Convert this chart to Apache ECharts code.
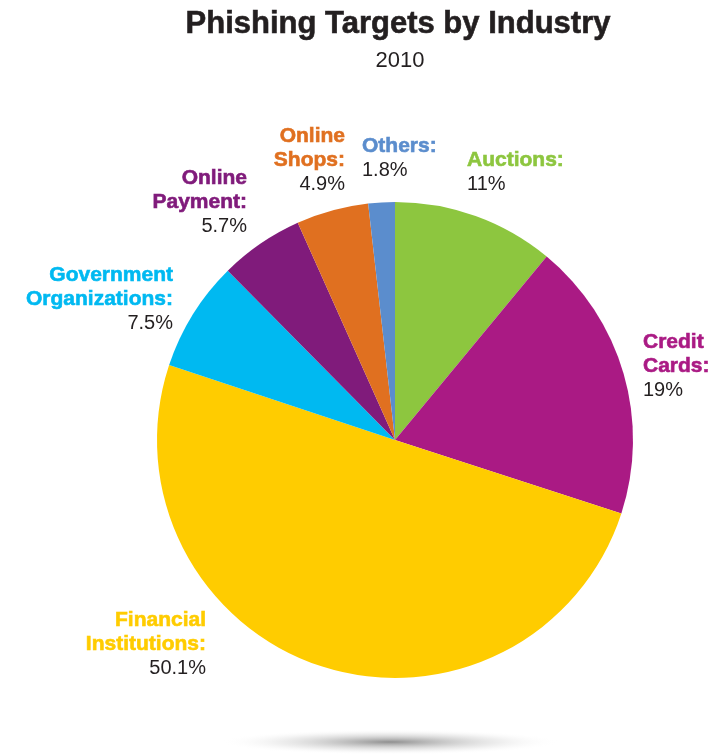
<!DOCTYPE html>
<html>
<head>
<meta charset="utf-8">
<script src="https://cdn.jsdelivr.net/npm/echarts@6/dist/echarts.min.js"></script>
<style>
  html, body { margin: 0; padding: 0; background: #ffffff; }
  #chart { width: 715px; height: 756px; }
</style>
</head>
<body>
<div id="chart"></div>
<script>
// Phishing targets by industry, 2010 (share of attacks, %)
const categories = [
  'Auctions',
  'Credit Cards',
  'Financial Institutions',
  'Government Organizations',
  'Online Payment',
  'Online Shops',
  'Others'
];
const shares = [11, 19, 50.1, 7.5, 5.7, 4.9, 1.8];
const valueLabels = ['11%', '19%', '50.1%', '7.5%', '5.7%', '4.9%', '1.8%'];
// how each category name wraps in its label
const nameLines = [
  ['Auctions:'],
  ['Credit', 'Cards:'],
  ['Financial', 'Institutions:'],
  ['Government', 'Organizations:'],
  ['Online', 'Payment:'],
  ['Online', 'Shops:'],
  ['Others:']
];

const sliceColors = ['#8dc63f', '#aa1a84', '#ffcc00', '#00b9f1', '#801b7b', '#e07020', '#5b8dcd'];

// label anchors: x, vertical centre, text alignment
const labelSpots = [
  { x: 467, y: 172, align: 'left' },
  { x: 643, y: 366, align: 'left' },
  { x: 206, y: 644, align: 'right' },
  { x: 173, y: 299, align: 'right' },
  { x: 247, y: 202, align: 'right' },
  { x: 345, y: 160, align: 'right' },
  { x: 362, y: 158, align: 'left' }
];

const FONT = '"Liberation Sans", Arial, Helvetica, sans-serif';

const rich = { v: { color: '#231f20', fontSize: 20, fontFamily: FONT, lineHeight: 24 } };
sliceColors.forEach((c, i) => {
  rich['n' + i] = {
    color: c, fontSize: 21, fontWeight: 'bold', fontFamily: FONT, lineHeight: 24,
    textBorderColor: c, textBorderWidth: 0.6
  };
});

const pieData = categories.map((name, i) => ({
  name: name,
  value: shares[i],
  itemStyle: { color: sliceColors[i] },
  label: {
    formatter: nameLines[i].map(l => '{n' + i + '|' + l + '}').join('\n') + '\n{v|' + valueLabels[i] + '}',
    align: labelSpots[i].align
  }
}));

const chart = echarts.init(document.getElementById('chart'), null, { renderer: 'canvas' });

chart.setOption({
  backgroundColor: '#ffffff',
  animation: false,
  title: [
    {
      text: 'Phishing Targets by Industry',
      left: 393,
      top: 4,
      textAlign: 'center',
      textStyle: {
        fontFamily: FONT, fontWeight: 'bold', fontSize: 31, color: '#231f20',
        textBorderColor: '#231f20', textBorderWidth: 0.6
      }
    },
    {
      text: '2010',
      left: 395,
      top: 45,
      textAlign: 'center',
      textStyle: { fontFamily: FONT, fontWeight: 'normal', fontSize: 22, color: '#231f20' }
    }
  ],
  graphic: [
    {
      // soft floor shadow under the pie: a radial fade squashed into an ellipse
      type: 'circle',
      silent: true,
      z: -1,
      x: 390,
      y: 742,
      scaleY: 0.075,
      shape: { cx: 0, cy: 0, r: 170 },
      style: {
        fill: new echarts.graphic.RadialGradient(0.5, 0.5, 0.5, [
          { offset: 0, color: 'rgba(115,115,115,0.8)' },
          { offset: 0.3, color: 'rgba(150,150,150,0.55)' },
          { offset: 0.65, color: 'rgba(200,200,200,0.3)' },
          { offset: 1, color: 'rgba(255,255,255,0)' }
        ])
      }
    }
  ],
  series: [
    {
      type: 'pie',
      center: [395, 440],
      radius: [0, 238],
      startAngle: 90,
      clockwise: true,
      avoidLabelOverlap: false,
      itemStyle: { borderWidth: 0 },
      label: {
        show: true,
        position: 'outside',
        verticalAlign: 'middle',
        rich: rich
      },
      labelLine: { show: false },
      labelLayout: function (params) {
        const s = labelSpots[params.dataIndex];
        return { x: s.x, y: s.y, align: s.align, verticalAlign: 'middle', hideOverlap: false };
      },
      emphasis: { disabled: true },
      data: pieData
    }
  ]
});
</script>
</body>
</html>
